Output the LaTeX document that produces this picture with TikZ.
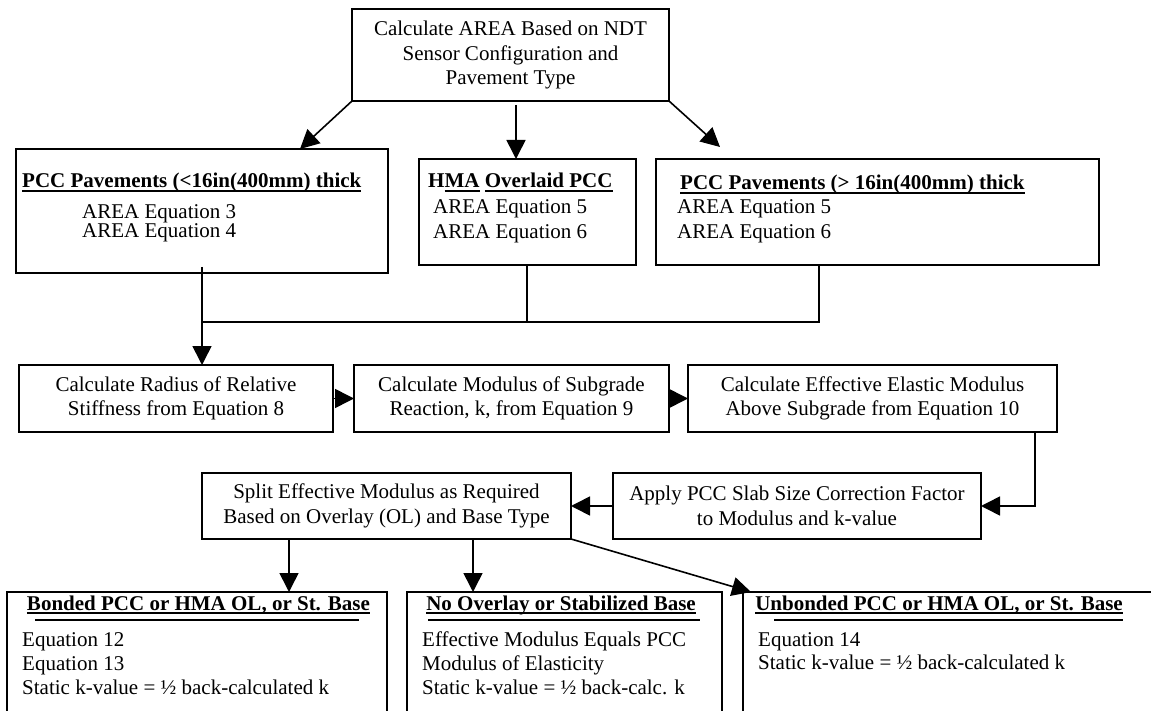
\documentclass[tikz,border=0pt]{standalone}
\usepackage{fontspec}
\setmainfont{Liberation Serif}
\usetikzlibrary{arrows.meta}

% dicke Unterstreichung fuer die Ueberschriften
\newcommand{\unterstr}[1]{\setbox0\hbox{#1}\rlap{\vrule height -2.2pt depth 4.2pt width \wd0}\box0\relax}

\begin{document}
\begin{tikzpicture}[x=1pt,y=-1pt,font=\fontsize{21}{24.5}\selectfont,
    kasten/.style={draw,line width=1.8pt,inner sep=0pt,outer sep=0pt},
    linie/.style={line width=1.6pt},
    pfeil/.style={line width=1.6pt,-{Triangle[length=19pt,width=19pt]}},
    regel/.style={line width=1.2pt},
    schrift/.style={inner sep=0pt,anchor=base west,align=left}]
    \useasboundingbox (0,0) rectangle (1151,711);
    \clip (0,0) rectangle (1151,711);

    % Kaesten oben
    \node[kasten,minimum width=317pt,minimum height=92pt,align=center] (area) at (510.5,55) {Calculate AREA Based on NDT\\Sensor Configuration and\\Pavement Type};
    \node[kasten,minimum width=372pt,minimum height=124pt] (duenn) at (202,211) {};
    \node[kasten,minimum width=217pt,minimum height=106pt] (hma) at (527.5,212) {};
    \node[kasten,minimum width=443pt,minimum height=106pt] (dick) at (877.5,212) {};
    \coordinate (rechts) at (720,147);

    % Texte: base west liegt auf der letzten Zeile
    \node[schrift] (duenn-k) at (22,188) {\textbf{\unterstr{PCC Pavements (<16in(400mm) thick}}};
    \node[schrift,font=\fontsize{21}{17.5}\selectfont] (duenn-t) at (82,237.5) {AREA Equation 3\\AREA Equation 4};
    \node[schrift] (hma-k) at (428,188) {\textbf{H\unterstr{MA} \unterstr{Overlaid PCC}}};
    \node[schrift] (hma-t) at (433,238.5) {AREA Equation 5\\AREA Equation 6};
    \node[schrift] (dick-k) at (680,190) {\textbf{\unterstr{PCC Pavements (> 16in(400mm) thick}}};
    \node[schrift] (dick-t) at (677,238.5) {AREA Equation 5\\AREA Equation 6};

    % Berechnungsschritte
    \node[kasten,minimum width=314pt,minimum height=67pt,align=center] (radius) at (176,398.5) {Calculate Radius of Relative\\Stiffness from Equation 8};
    \node[kasten,minimum width=315pt,minimum height=67pt,align=center] (modul) at (511.5,398.5) {Calculate Modulus of Subgrade\\Reaction, k, from Equation 9};
    \node[kasten,minimum width=369pt,minimum height=67pt,align=center] (emod) at (872.5,398.5) {Calculate Effective Elastic Modulus\\Above Subgrade from Equation 10};
    \node[kasten,minimum width=368pt,minimum height=66pt,align=center] (korr) at (797,506) {Apply PCC Slab Size Correction Factor\\to Modulus and k-value};
    \node[kasten,minimum width=369pt,minimum height=66pt,align=center] (split) at (386.5,506) {Split Effective Modulus as Required\\Based on Overlay (OL) and Base Type};

    % Kaesten unten
    \node[kasten,minimum width=380pt,minimum height=138pt] (verbund) at (197,661) {};
    \node[kasten,minimum width=315pt,minimum height=138pt] (ohne) at (564.5,661) {};
    \node[kasten,minimum width=427pt,minimum height=138pt] (unverb) at (956.5,661) {};

    \node[schrift,anchor=base] (verbund-k) at (198.5,610) {\textbf{\unterstr{Bonded PCC or HMA OL, or St. Base}}};
    \node[schrift,anchor=base] (ohne-k) at (561,610) {\textbf{\unterstr{No Overlay or Stabilized Base}}};
    \node[schrift,anchor=base] (unverb-k) at (939,610) {\textbf{\unterstr{Unbonded PCC or HMA OL, or St. Base}}};
    \draw[regel] (35,620) -- (359,620);
    \draw[regel] (428,620) -- (700,620);
    \draw[regel] (774,620) -- (1123,620);

    \node[schrift,font=\fontsize{21}{24}\selectfont] (verbund-t) at (22,694) {Equation 12\\Equation 13\\Static k-value = ½ back-calculated k};
    \node[schrift,font=\fontsize{21}{24}\selectfont] (ohne-t) at (422,694) {Effective Modulus Equals PCC\\Modulus of Elasticity\\Static k-value = ½ back-calc. k};
    \node[schrift,font=\fontsize{21}{23}\selectfont] (unverb-t) at (758,669) {Equation 14\\Static k-value = ½ back-calculated k};

    % Pfeile
    \draw[pfeil] (area.south west) -- ([xshift=-88pt]duenn.north east);
    \draw[pfeil] ([xshift=5.5pt,yshift=-4pt]area.south) coordinate (m) -- (m |- hma.north);
    \draw[pfeil] (area.south east) -- (rechts);

    \coordinate (sammel) at (202,322);
    \draw[linie] ([yshift=6pt]duenn.south) -- (sammel);
    \draw[linie] ([xshift=-0.5pt,yshift=-1pt]hma.south) coordinate (h) -- (h |- sammel);
    \draw[linie] ([xshift=-58.5pt,yshift=-1pt]dick.south) coordinate (d) -- (d |- sammel) -- (sammel);
    \draw[pfeil] (sammel) -- (sammel |- radius.north);

    \draw[pfeil] (radius.east) -- (modul.west);
    \draw[pfeil] (modul.east) -- (emod.west);
    \draw[pfeil] ([xshift=-22pt]emod.south east) |- (korr.east);
    \draw[pfeil] (korr.west) -- (split.east);

    \draw[pfeil] ([xshift=-97.5pt]split.south) coordinate (s1) -- (s1 |- verbund.north);
    \draw[pfeil] ([xshift=86.5pt]split.south) coordinate (s2) -- (s2 |- ohne.north);
    \draw[pfeil] (split.south east) -- ([xshift=8pt]unverb.north west);
\end{tikzpicture}
\end{document}
